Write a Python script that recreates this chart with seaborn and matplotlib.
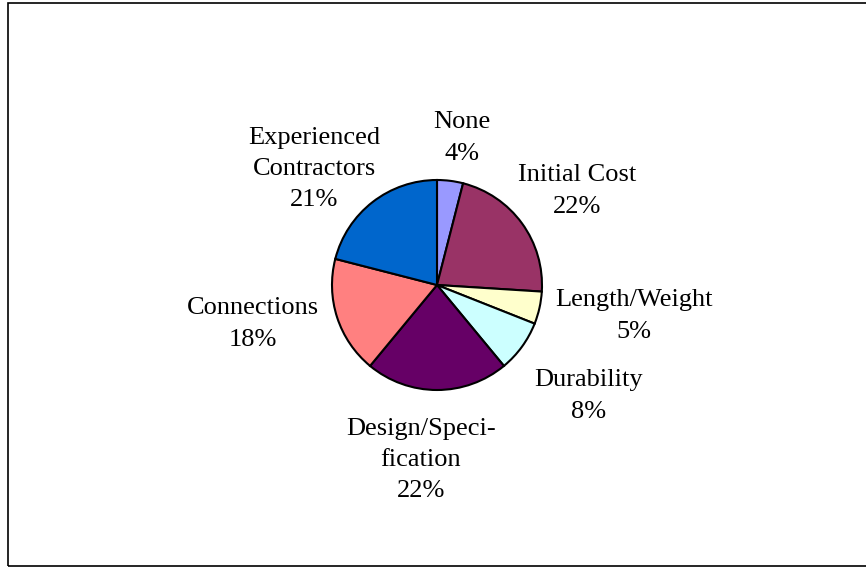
import matplotlib
matplotlib.use("Agg")
import matplotlib.pyplot as plt
import seaborn as sns
from matplotlib.patches import Rectangle

categories = ["None", "Initial Cost", "Length/Weight", "Durability",
              "Design/Speci-\nfication", "Connections", "Experienced\nContractors"]
values = [4, 22, 5, 8, 22, 18, 21]
colors = ["#9999FF", "#993366", "#FFFFCC", "#CCFFFF", "#660066", "#FF8080", "#0066CC"]

# label centres in image pixel coords (x, y from top)
label_pos = [(462, 138), (577, 191), (634, 316), (589, 396),
             (421, 460), (253, 324), (314, 169)]

sns.set_theme(style="white")
plt.rcParams['font.family'] = ['Liberation Serif', 'DejaVu Serif']

W, H = 866, 567
fig = plt.figure(figsize=(W / 100, H / 100), dpi=100)
ax = fig.add_axes([0, 0, 1, 1])

cx, cy, r = 437, 285, 105
ax.pie(values, colors=colors, startangle=90, counterclock=False,
       center=(cx, H - cy), radius=r, frame=True,
       wedgeprops=dict(edgecolor="black", linewidth=1.5))
ax.set_xlim(0, W)
ax.set_ylim(0, H)
ax.set_axis_off()

for cat, v, (x, y) in zip(categories, values, label_pos):
    ax.text(x, H - y, f"{cat}\n{v}%", ha="center", va="center",
            fontsize=19, color="black", linespacing=1.55)

ax.add_patch(Rectangle((8, 1.5), 870, 563, fill=False, edgecolor="black",
                       linewidth=1.2, clip_on=False))

fig.savefig("out.png", dpi=100)
